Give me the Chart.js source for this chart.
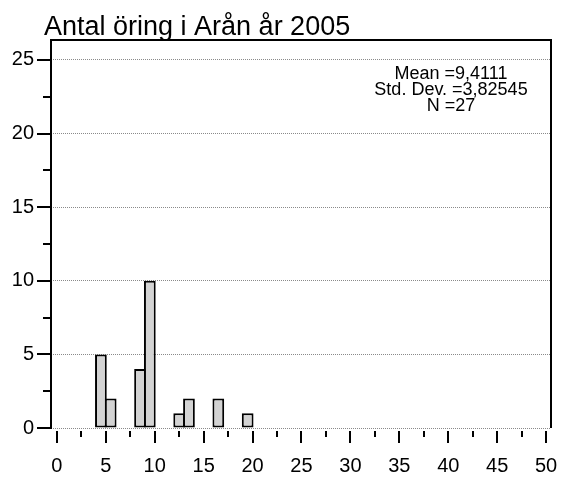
<!DOCTYPE html>
<html>
<head>
<meta charset="utf-8">
<script src="https://cdn.jsdelivr.net/npm/chart.js@4"></script>
<style>
html,body{margin:0;padding:0;background:#fff;}
#wrap{width:562px;height:477px;position:relative;}
</style>
</head>
<body>
<div id="wrap"><canvas id="c" width="562" height="477"></canvas></div>
<script>
// Data (bin centres, counts per 1-unit bin)
const binCenters = [4.5, 5.5, 8.5, 9.5, 12.5, 13.5, 16.5, 19.5];
const counts = [5, 2, 4, 10, 1, 2, 2, 1];
const xTicks = [0, 5, 10, 15, 20, 25, 30, 35, 40, 45, 50];
const yTicks = [0, 5, 10, 15, 20, 25];
const titleText = 'Antal öring i Arån år 2005';
const statsLines = ['Mean =9,4111', 'Std. Dev. =3,82545', 'N =27'];

const FONT = '"Liberation Sans", Arial, Helvetica, sans-serif';

const points = binCenters.map((x, i) => ({x: x, y: counts[i]}));

const decor = {
  id: 'decor',
  afterDraw(chart) {
    const ctx = chart.ctx;
    const a = chart.chartArea;
    const xs = chart.scales.x, ys = chart.scales.y;
    ctx.save();
    ctx.strokeStyle = '#000';
    ctx.lineWidth = 2;
    ctx.lineCap = 'butt';
    // frame: left axis, top, right
    ctx.beginPath();
    ctx.moveTo(a.left, a.bottom + 1);
    ctx.lineTo(a.left, a.top);
    ctx.lineTo(a.right, a.top);
    ctx.lineTo(a.right, a.bottom);
    ctx.stroke();
    // y ticks
    for (let v = 0; v <= 25; v += 2.5) {
      const y = Math.round(ys.getPixelForValue(v));
      const major = v % 5 === 0;
      ctx.beginPath();
      ctx.moveTo(a.left - (major ? 14 : 8), y);
      ctx.lineTo(a.left, y);
      ctx.stroke();
    }
    // x ticks
    for (let v = 0; v <= 50; v += 2.5) {
      const x = Math.round(xs.getPixelForValue(v));
      const major = v % 5 === 0;
      ctx.beginPath();
      ctx.moveTo(x, a.bottom + 3);
      ctx.lineTo(x, a.bottom + (major ? 15 : 9));
      ctx.stroke();
    }
    // title
    ctx.fillStyle = '#000';
    ctx.font = '27px ' + FONT;
    ctx.textAlign = 'left';
    ctx.textBaseline = 'alphabetic';
    ctx.fillText(titleText, 44, 35);
    // stats
    ctx.font = '18px ' + FONT;
    ctx.textAlign = 'center';
    statsLines.forEach((s, i) => ctx.fillText(s, 451, 79 + i * 16));
    ctx.restore();
  }
};

new Chart(document.getElementById('c'), {
  type: 'bar',
  data: {
    datasets: [{
      data: points,
      backgroundColor: '#d3d3d3',
      borderColor: '#000',
      borderWidth: 2,
      borderSkipped: false,
      barPercentage: 1.2,
      categoryPercentage: 1
    }]
  },
  options: {
    responsive: false,
    animation: false,
    devicePixelRatio: 1,
    layout: {padding: {top: 40, right: 11, left: 0, bottom: 0}},
    plugins: {legend: {display: false}, tooltip: {enabled: false}, title: {display: false}},
    scales: {
      x: {
        type: 'linear',
        min: -0.6,
        max: 50.5,
        offset: false,
        grid: {display: false, drawTicks: false},
        border: {display: false},
        afterBuildTicks: s => { s.ticks = xTicks.map(v => ({value: v})); },
        afterFit: s => { s.height = 49; s.paddingLeft = 0; s.paddingRight = 0; },
        ticks: {
          color: '#000',
          font: {family: FONT, size: 20},
          padding: 26,
          maxRotation: 0,
          autoSkip: false
        }
      },
      y: {
        min: 0,
        max: 26.35,
        grid: {display: true, drawTicks: false, color: '#8a8a8a', lineWidth: 1},
        border: {display: false, dash: [1, 1]},
        afterBuildTicks: s => { s.ticks = yTicks.map(v => ({value: v})); },
        afterFit: s => { s.width = 51; s.paddingTop = 0; s.paddingBottom = 0; },
        ticks: {
          color: '#000',
          font: {family: FONT, size: 20},
          padding: 17
        }
      }
    }
  },
  plugins: [decor]
});
</script>
</body>
</html>
